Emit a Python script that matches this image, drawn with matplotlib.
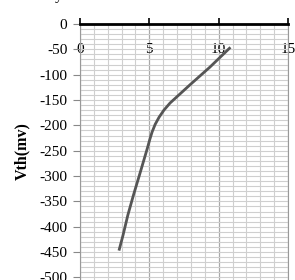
import numpy as np
import matplotlib
matplotlib.use("Agg")
import matplotlib.pyplot as plt
from matplotlib.ticker import MultipleLocator

# --- data ---
x_vals = [10.85, 9.37, 7.93, 6.49, 6.05, 5.70, 5.42, 5.20, 5.03, 4.88, 4.60, 4.32, 3.85, 3.45, 3.10, 2.81]
vth_vals = [-46, -85, -120, -156, -170, -184, -198, -213, -228, -243, -269, -295, -338, -377, -417, -447]
x_ticks = [0, 5, 10, 15]
y_ticks = list(range(-500, 1, 50))

plt.rcParams['font.family'] = ['Liberation Serif', 'DejaVu Serif']

fig = plt.figure(figsize=(2.95, 2.80), dpi=100)
ax = fig.add_axes([80 / 295, 0.0, 208 / 295, 1 - 24 / 280])

ax.set_xlim(0, 15)
ax.set_ylim(-505, 0)

# grid
ax.xaxis.set_major_locator(MultipleLocator(5))
ax.xaxis.set_minor_locator(MultipleLocator(1))
ax.yaxis.set_major_locator(MultipleLocator(50))
ax.yaxis.set_minor_locator(MultipleLocator(10))
ax.grid(True, which='minor', color='#cfcfcf', linewidth=0.8)
ax.grid(True, which='major', axis='x', color='#a8a8a8', linewidth=0.9)
ax.grid(True, which='major', axis='y', color='#cfcfcf', linewidth=0.8)
ax.set_axisbelow(True)

ax.plot(x_vals, vth_vals, color='#555555', linewidth=2.0,
        solid_capstyle='butt', solid_joinstyle='round', zorder=3)

# x axis drawn along y=0 at the top, labels below it
ax.spines['top'].set_visible(False)
ax.spines['bottom'].set_position(('data', 0))
ax.spines['bottom'].set_color('black')
ax.spines['bottom'].set_linewidth(2.0)
ax.spines['bottom'].set_zorder(4)
ax.spines['left'].set_color('#999999')
ax.spines['right'].set_color('#999999')
ax.set_xticks(x_ticks)
ax.set_xticklabels([str(t) for t in x_ticks])
ax.tick_params(axis='x', which='major', direction='in', length=4, width=1.2,
               color='black', labelsize=11, pad=14)
ax.tick_params(axis='x', which='minor', length=0)

ax.set_yticks(y_ticks)
ax.set_yticklabels([str(t) for t in y_ticks])
ax.tick_params(axis='y', which='major', direction='out', length=5, width=0.8,
               color='#888888', labelsize=11, pad=4)
ax.tick_params(axis='y', which='minor', length=0)

ax.set_ylabel('Vth(mv)', fontsize=11.5, fontweight='bold')
ax.yaxis.set_label_coords(-0.24, 0.504)

fig.text(0.197, 1.012, 'y', fontsize=11, ha='center', va='center')

fig.savefig('out.png', dpi=100)
